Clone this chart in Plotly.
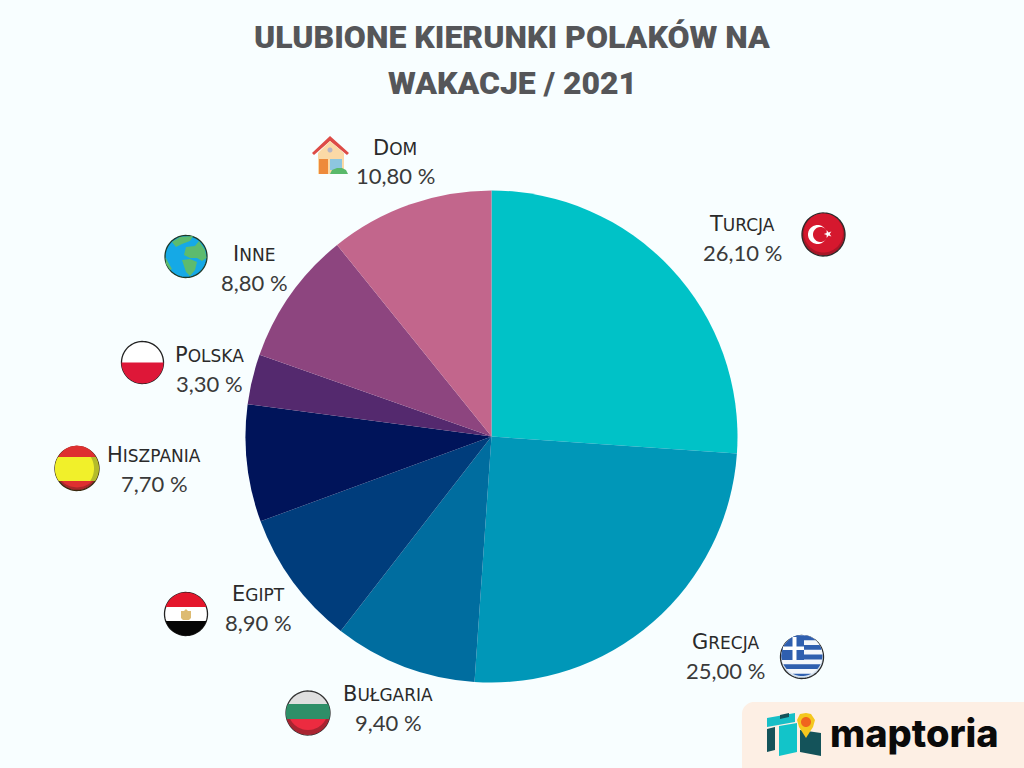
import numpy as np
import plotly.graph_objects as go

categories = ["Turcja", "Grecja", "Bułgaria", "Egipt", "Hiszpania", "Polska", "Inne", "Dom"]
values = [26.1, 25.0, 9.4, 8.9, 7.7, 3.3, 8.8, 10.8]
colors = ["#00C2C7", "#0097B8", "#006D9F", "#003D7C", "#00145A", "#54296E", "#8D457F", "#C2668C"]
title_lines = ["ULUBIONE KIERUNKI POLAKÓW NA", "WAKACJE / 2021"]
label_pos = [(742, 224), (725, 642), (388, 694), (258, 594), (154, 455), (209, 355), (254, 254), (395, 148)]

W, H = 1024, 768
BG = "#F8FEFF"
CX, CY, R = 491.5, 436.5, 246


def px(x):
    return x / W


def py(y):
    return 1 - y / H


def poly(pts, fill, line=None, lw=0):
    d = "M" + " L".join(f"{px(x):.5f},{py(y):.5f}" for x, y in pts) + " Z"
    return dict(type="path", xref="paper", yref="paper", path=d, fillcolor=fill,
                line=dict(color=line or fill, width=lw), layer="above")


def circle_pts(cx, cy, r, a0=0, a1=360, n=72):
    t = np.radians(np.linspace(a0, a1, n))
    return list(zip(cx + r * np.cos(t), cy + r * np.sin(t)))


def band(cx, cy, r, y0, y1, xmin=-1e9, xmax=1e9, right_shift=0.0, n=40):
    """part of circle between two heights, optionally cut by x limits or with its right edge pulled in"""
    y0, y1 = max(y0, cy - r), min(y1, cy + r)
    ys = np.linspace(y0, y1, n)
    hw = np.sqrt(np.clip(r * r - (ys - cy) ** 2, 0, None))
    left = np.maximum(cx - hw, xmin)
    right = np.minimum(cx + hw - right_shift, xmax)
    return list(zip(left, ys)) + list(zip(right[::-1], ys[::-1]))


def disc(cx, cy, r, fill, line="#2A2A2A", lw=1.3):
    return poly(circle_pts(cx, cy, r), fill, line, lw)


shapes = []

# Turkey
c = (823.5, 234.5, 21.5)
shapes.append(disc(*c, "#A91627"))
shapes.append(poly(circle_pts(c[0], c[1] - 1.5, 19.5), "#D5182E"))
shapes.append(poly(circle_pts(817.5, 234.5, 9.5), "#FFFFFF"))
shapes.append(poly(circle_pts(820.5, 234.5, 7.5), "#D5182E"))
st = [(828 + (4.2 if i % 2 == 0 else 1.7) * np.cos(np.radians(36 * i + 180)),
       234 + (4.2 if i % 2 == 0 else 1.7) * np.sin(np.radians(36 * i + 180))) for i in range(10)]
shapes.append(poly(st, "#FFFFFF"))

# Greece
c = (802, 657, 21.5)
shapes.append(disc(*c, "#D5E2F0"))
inner = (c[0], c[1] - 1.5, c[2] - 1)
top = c[1] - c[2]
sh = 43 / 9
shapes.append(poly(circle_pts(*inner), "#F4F7FB"))
for i in range(0, 9, 2):
    shapes.append(poly(band(*inner, top + i * sh, top + (i + 1) * sh), "#2F5FAF"))
shapes.append(poly(band(*inner, top, 660, xmax=804), "#2F5FAF"))
shapes.append(poly([(783, 646.5), (804, 646.5), (804, 650), (783, 650)], "#FFFFFF"))
shapes.append(poly([(792.5, 637), (796.5, 637), (796.5, 660), (792.5, 660)], "#FFFFFF"))

# Bulgaria
c = (308, 713, 22)
shapes.append(disc(*c, "#DFDFDF", "#333333"))
shapes.append(poly(band(c[0], c[1], c[2], 704, 719), "#2E8F68"))
shapes.append(poly(band(c[0], c[1], c[2], 719, 735), "#A92431"))
shapes.append(poly(band(c[0], c[1] - 3, c[2] - 2, 719, 735), "#EC2B40"))

# Egypt
c = (186, 614, 21.5)
shapes.append(disc(*c, "#FFFFFF", "#222222"))
shapes.append(poly(band(c[0], c[1], c[2], c[1] - c[2], 607), "#E4162C"))
shapes.append(poly(band(c[0], c[1], c[2], 621, c[1] + c[2]), "#050505"))
shapes.append(poly([(186, 609), (188, 611), (191, 611), (191, 618), (189, 620), (183, 620), (181, 618), (181, 611),
                    (184, 611)], "#DDBB72"))

# Spain
c = (77, 468.5, 22)
shapes.append(disc(*c, "#A8272A", "#3A2A10"))
shapes.append(poly(band(c[0], c[1] - 2, c[2] - 1, c[1] - 23, c[1] + 23), "#DE3030"))
shapes.append(poly(band(c[0], c[1], c[2], 457, 481), "#B4BB2A"))
shapes.append(poly(band(c[0], c[1], c[2], 457, 481, right_shift=5), "#F1F02A"))

# Poland
c = (142.5, 362.5, 21)
shapes.append(disc(*c, "#FFFFFF", "#222222"))
shapes.append(poly(band(c[0], c[1], c[2], 362.5, c[1] + c[2]), "#DE1738"))

# Globe
c = (186, 256.5, 21)
shapes.append(disc(*c, "#15A9E6", "#1E3A2A"))
shapes.append(poly([(186, 247), (195, 246), (199, 241), (205, 250), (206.5, 258), (202, 261), (197, 258), (190, 258),
                    (184, 255)], "#5DBB6E"))
shapes.append(poly([(182, 260), (190, 259), (197, 262), (195, 270), (190, 276), (186, 272)], "#5DBB6E"))
shapes.append(poly([(172, 242), (180, 237), (193, 236), (190, 241), (182, 244), (176, 247)], "#5DBB6E"))
shapes.append(poly([(165.5, 257), (168, 262), (172, 269), (170, 270), (166, 264)], "#5DBB6E"))

# House
shapes.append(poly([(330, 136), (349, 153), (347, 155), (330, 141), (314, 155), (312, 153)], "#DD4B46"))
shapes.append(poly([(330, 141), (344, 153), (344, 174), (318, 174), (318, 153)], "#FBD9A6"))
shapes.append(poly([(319, 159), (328, 159), (328, 174), (319, 174)], "#EE8A3B"))
shapes.append(poly([(330, 159), (342, 159), (342, 170), (330, 170)], "#8DC6DF"))
shapes.append(poly([(330, 174), (332, 170), (337, 168), (342, 168), (346, 170), (348, 174)], "#59B96A"))
shapes.append(poly(circle_pts(330, 150, 2.5), "#B6B4C6"))

# Maptoria panel
x0, x1, y0, y1, r = 742, 1024, 702, 768, 12
arc = circle_pts(x0 + r, y0 + r, r, 180, 270, 12)
shapes.append(poly([(x0, y1)] + arc + [(x1, y0), (x1, y1)], "#FDEFE4"))
shapes.append(poly([(767, 718), (795, 713), (795, 722), (767, 727)], "#17BFC7"))
shapes.append(poly([(780, 715), (789, 713), (789, 717), (780, 719)], "#14535A"))
shapes.append(poly([(767, 729), (775, 727), (775, 750), (767, 752)], "#14535A"))
shapes.append(poly([(779, 726), (797, 723), (797, 752), (779, 756)], "#12C4C9"))
shapes.append(poly([(800, 730), (821, 733), (821, 756), (800, 752)], "#14535A"))
shapes.append(poly([(799, 727), (806, 738), (813, 727), (815, 720), (811, 714), (806, 713), (800, 714), (797, 720)],
                   "#F4C71E"))
shapes.append(poly(circle_pts(806, 722, 5), "#F0641E"))

# Labels (small caps drawn by font-size steps)
annotations = []


def small_caps(s, big=21, small=17):
    return f'<span style="font-size:{big}px">{s[0].upper()}</span><span style="font-size:{small}px">{s[1:].upper()}</span>'


for name, v, (x, y) in zip(categories, values, label_pos):
    annotations.append(dict(x=px(x), y=py(y), xref="paper", yref="paper", showarrow=False,
                            xanchor="center", yanchor="middle", text=small_caps(name),
                            font=dict(family="DejaVu Sans", size=18, color="#2A2A2A")))
    annotations.append(dict(x=px(x), y=py(y + 28), xref="paper", yref="paper", showarrow=False,
                            xanchor="center", yanchor="middle",
                            text=f"{v:.2f}".replace(".", ",") + " %",
                            font=dict(family="Lato", size=22, color="#3A3A3A")))

for line, y in zip(title_lines, (37, 83)):
    annotations.append(dict(x=px(512), y=py(y), xref="paper", yref="paper", showarrow=False,
                            xanchor="center", yanchor="middle", text=line,
                            font=dict(family="Roboto", size=32, color="#555659", weight=900)))

annotations.append(dict(x=px(914), y=py(733), xref="paper", yref="paper", showarrow=False,
                        xanchor="center", yanchor="middle", text="maptoria",
                        font=dict(family="Inter", size=38, color="#0A0A0A", weight=800)))

fig = go.Figure(go.Pie(
    labels=categories, values=values, sort=False, direction="clockwise", rotation=0,
    marker=dict(colors=colors, line=dict(width=0)), textinfo="none", hoverinfo="label+percent",
    domain=dict(x=[px(CX - R), px(CX + R)], y=[py(CY + R), py(CY - R)]),
))
fig.update_layout(width=W, height=H, margin=dict(l=0, r=0, t=0, b=0), showlegend=False,
                  paper_bgcolor=BG, plot_bgcolor=BG, shapes=shapes, annotations=annotations)
fig.write_html("out.html", post_script="document.body.style.margin='0';", config={"displayModeBar": False})
